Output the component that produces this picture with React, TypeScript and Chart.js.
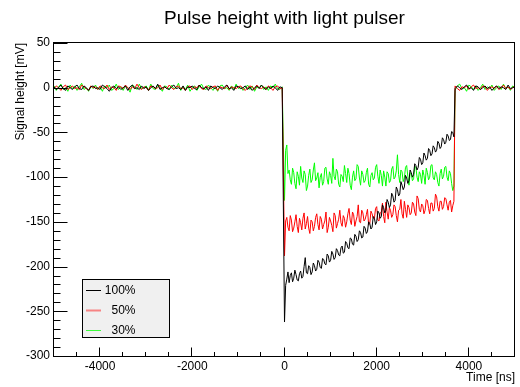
import React, { useEffect, useRef } from "react";
import { Chart, registerables } from "chart.js";

Chart.register(...registerables);

// Sampling grids of the traces (ns): before pulse, during pulse, after pulse
const PRE_T0 = -5000;
const PRE_STEP = 50;
const PULSE_T0 = 0;
const PULSE_STEP = 25;
const POST_T0 = 3700;
const POST_STEP = 50;

const TITLE = "Pulse height with light pulser";
const X_TITLE = "Time [ns]";
const Y_TITLE = "Signal height [mV]";
const X_TICKS = [-4000, -2000, 0, 2000, 4000];
const Y_TICKS = [-300, -250, -200, -150, -100, -50, 0, 50];
const SERIES_LABELS = ["100%", "50%", "30%"];

// 100% trace (mV)
const BLACK_PRE = [
  1, -2, 0, 3, -1, -3, 2, 0, -2, 1,
  3, -1, -2, 2, 0, -3, 1, 2, -1, 0,
  -2, 3, 1, -1, -4, 0, 2, -1, 1, -2,
  0, 2, -3, 1, 3, -1, 0, -2, 2, -1,
  1, -3, 0, 2, -1, 4, -2, 0, 1, -1,
  -2, 1, 3, -1, 0, -2, 2, -3, 1, 0,
  2, -1, -2, 3, 0, -1, 1, -3, 2, 0,
  -1, 2, 0, -2, 1, 3, -1, 0, -3, 2,
  1, -1, 0, 2, -2, 1, -3, 0, 2, -1,
  3, 0, -2, 1, -1, 2, 0, -3, 1, 0,
];
const BLACK_PULSE = [
  -262, -221, -214, -206, -218, -210, -207, -217, -213, -204,
  -209, -215, -216, -208, -205, -213, -211, -200, -190, -207,
  -208, -199, -201, -209, -206, -196, -199, -205, -203, -193,
  -195, -201, -202, -191, -192, -197, -198, -186, -188, -195,
  -193, -183, -186, -192, -190, -180, -182, -187, -188, -179,
  -177, -185, -184, -172, -174, -179, -180, -168, -169, -175,
  -176, -164, -166, -172, -170, -160, -162, -168, -167, -155,
  -157, -163, -161, -150, -152, -158, -156, -144, -146, -153,
  -150, -138, -140, -146, -144, -131, -134, -140, -137, -125,
  -128, -134, -131, -118, -121, -128, -126, -111, -114, -121,
  -119, -105, -109, -114, -111, -98, -101, -107, -104, -92,
  -95, -100, -97, -85, -87, -92, -89, -78, -80, -86,
  -84, -73, -76, -81, -79, -68, -70, -76, -74, -65,
  -67, -72, -70, -60, -62, -68, -66, -56, -58, -63,
  -61, -52, -54, -59, -58, -49, -50, -55,
];
const BLACK_POST = [
  -1, 2, 0, -2, 1, 3, -1, 0, -3, 2, 1, -2, 0, 2, -1, 1, -3, 0, 2, -1, 1, 0, -2, 3, -1, 0, 1,
];

// 50% trace (mV)
const RED_PRE = [
  -1, 2, 0, -3, 1, 3, -2, 0, 2, -1,
  0, -2, 3, 1, -1, -3, 2, 0, 1, -2,
  2, 0, -1, 3, -2, 1, 0, -3, 2, 1,
  -1, 3, 0, -2, 1, -1, 4, 0, -2, 1,
  0, -3, 2, 1, -1, 0, 3, -2, 1, -1,
  3, 0, -2, 1, 2, -1, 0, -3, 1, 2,
  -2, 1, 0, 3, -1, -2, 2, 0, -1, 1,
  2, -3, 1, 0, -1, 3, -2, 1, 0, -1,
  1, 2, -1, -3, 0, 2, 1, -2, 3, 0,
  -1, 1, -2, 2, 0, -3, 1, 2, -1, 0,
];
const RED_PULSE = [
  -188, -149, -145, -156, -160, -143, -148, -161, -157, -150,
  -142, -155, -162, -146, -151, -159, -146, -140, -158, -152,
  -144, -157, -163, -148, -150, -160, -155, -145, -141, -153,
  -159, -144, -147, -158, -153, -149, -139, -162, -156, -145,
  -149, -154, -161, -140, -143, -157, -152, -147, -137, -151,
  -155, -143, -146, -156, -150, -141, -135, -148, -153, -139,
  -142, -155, -149, -144, -131, -150, -151, -137, -140, -149,
  -147, -142, -136, -153, -152, -138, -141, -146, -146, -135,
  -133, -148, -149, -140, -139, -129, -144, -151, -128, -139,
  -147, -134, -137, -145, -142, -131, -133, -143, -150, -137,
  -136, -125, -141, -146, -127, -136, -145, -131, -134, -142,
  -140, -128, -130, -139, -143, -121, -124, -136, -139, -130,
  -132, -141, -137, -125, -126, -135, -141, -129, -129, -138,
  -135, -119, -122, -133, -138, -127, -127, -136, -133, -123,
  -124, -131, -137, -128, -126, -139, -132, -127,
];
const RED_POST = [
  2, -1, -3, 1, 0, 2, -2, 1, 3, -1, 0, -2, 2, 1, -3, 0, 1, -1, 2, -2, 0, 3, -1, 1, -2, 0, 2,
];

// 30% trace (mV)
const GREEN_PRE = [
  2, -3, 1, 4, -2, 0, -4, 3, -1, 2,
  -3, 1, 5, -2, 0, -4, 2, -1, 3, -2,
  1, -4, 2, 0, 3, -3, -1, 4, -2, 1,
  -3, 2, 0, -5, 3, 1, -2, 4, -1, 0,
  2, -3, 4, -1, -2, 3, 0, -4, 2, 1,
  -2, 3, -1, 0, 5, -3, 1, -2, 3, -4,
  0, 2, -3, 1, 4, -1, -2, 3, 0, -3,
  1, -4, 2, 3, -1, 0, -3, 2, -2, 4,
  -1, 1, -3, 0, 3, -2, 2, -4, 1, 0,
  3, -2, 1, -3, 2, 0, 4, -1, -2, 1,
];
const GREEN_PULSE = [
  -126, -70, -64, -96, -92, -103, -108, -90, -95, -107,
  -113, -94, -99, -109, -88, -101, -106, -93, -97, -115,
  -110, -98, -91, -106, -103, -92, -84, -104, -101, -95,
  -112, -100, -96, -109, -105, -90, -89, -102, -108, -94,
  -98, -107, -79, -99, -103, -91, -94, -108, -111, -97,
  -99, -105, -87, -96, -106, -90, -96, -109, -114, -100,
  -93, -104, -102, -86, -88, -101, -109, -93, -97, -106,
  -104, -95, -90, -108, -111, -98, -95, -103, -101, -89,
  -86, -99, -107, -92, -98, -110, -93, -100, -110, -94,
  -96, -106, -104, -91, -88, -102, -100, -93, -75, -97,
  -106, -92, -94, -105, -101, -89, -87, -99, -109, -95,
  -96, -104, -102, -88, -89, -100, -105, -94, -97, -107,
  -92, -98, -108, -90, -95, -103, -100, -87, -86, -101,
  -103, -94, -97, -106, -110, -96, -91, -102, -99, -89,
  -88, -100, -104, -93, -96, -107, -115, -110,
];
const GREEN_POST = [
  -3, 2, 4, -1, 0, -4, 3, 1, -2, 2, -3, 0, 4, -2, 1, -1, 3, -3, 0, 2, -2, 4, -1, 1, -3, 2, 0,
];

const FONT = "'Liberation Sans', Arial, Helvetica, sans-serif";

const seg = (vals: number[], t0: number, step: number) =>
  vals.map((y, i) => ({ x: t0 + i * step, y }));

const trace = (pre: number[], pulse: number[], post: number[]) => [
  ...seg(pre, PRE_T0, PRE_STEP),
  ...seg(pulse, PULSE_T0, PULSE_STEP),
  ...seg(post, POST_T0, POST_STEP),
];

const decorPlugin = {
  id: "rootDecor",
  afterDraw(chart: any) {
    const { ctx, chartArea: a, scales } = chart;
    const xs = scales.x;
    const ys = scales.y;
    ctx.save();
    ctx.strokeStyle = "#000";
    ctx.lineWidth = 1;
    const L = Math.round(a.left) - 0.5;
    const R = Math.round(a.right) - 0.5;
    const T = Math.round(a.top) - 0.5;
    const B = Math.round(a.bottom) + 0.5;
    ctx.strokeRect(L, T, R - L, B - T);

    ctx.beginPath();
    for (let v = xs.min; v <= xs.max + 1e-6; v += 500) {
      const px = Math.round(xs.getPixelForValue(v)) - 0.5;
      const major = X_TICKS.includes(v);
      const len = major ? 9 : 4.5;
      ctx.moveTo(px, B);
      ctx.lineTo(px, B - len);
    }
    for (let v = ys.min; v <= ys.max + 1e-6; v += 10) {
      const py = Math.round(ys.getPixelForValue(v)) + 0.5;
      const major = Y_TICKS.includes(v);
      const len = major ? 14 : 7;
      ctx.moveTo(L, py);
      ctx.lineTo(L + len, py);
    }
    ctx.stroke();

    ctx.fillStyle = "#000";
    ctx.font = `19px ${FONT}`;
    ctx.textAlign = "center";
    ctx.textBaseline = "alphabetic";
    ctx.fillText(TITLE, (a.left + a.right) / 2, 24);

    ctx.font = `12px ${FONT}`;
    ctx.textAlign = "right";
    ctx.fillText(X_TITLE, a.right, 381);

    ctx.save();
    ctx.translate(24, a.top);
    ctx.rotate(-Math.PI / 2);
    ctx.textAlign = "right";
    ctx.fillText(Y_TITLE, 0, 0);
    ctx.restore();

    const lx = a.left + 28.5;
    const ly = a.top + 236.5;
    const lw = 87;
    const lh = 58;
    ctx.fillStyle = "#f0f0f0";
    ctx.fillRect(lx, ly, lw, lh);
    ctx.strokeStyle = "#000";
    ctx.lineWidth = 1;
    ctx.strokeRect(lx, ly, lw, lh);
    const styles = [
      { color: "#000000", width: 1 },
      { color: "rgba(255,0,0,0.45)", width: 2 },
      { color: "rgba(0,255,0,0.75)", width: 1 },
    ];
    SERIES_LABELS.forEach((label, i) => {
      const cy = ly + 10 + i * 20;
      ctx.strokeStyle = styles[i].color;
      ctx.lineWidth = styles[i].width;
      ctx.beginPath();
      ctx.moveTo(lx + 3.5, Math.round(cy) + 0.5);
      ctx.lineTo(lx + 18.5, Math.round(cy) + 0.5);
      ctx.stroke();
      ctx.fillStyle = "#000";
      ctx.font = `12px ${FONT}`;
      ctx.textAlign = "right";
      ctx.textBaseline = "middle";
      ctx.fillText(label, lx + 53, cy + 1);
    });
    ctx.restore();
  },
};

export default function App() {
  const canvasRef = useRef<HTMLCanvasElement | null>(null);

  useEffect(() => {
    document.body.style.margin = "0";
    const canvas = canvasRef.current;
    if (!canvas) return;
    const chart = new Chart(canvas, {
      type: "line",
      data: {
        datasets: [
          {
            label: SERIES_LABELS[0],
            data: trace(BLACK_PRE, BLACK_PULSE, BLACK_POST),
            borderColor: "#000000",
            borderWidth: 1,
            pointRadius: 0,
            tension: 0,
          },
          {
            label: SERIES_LABELS[1],
            data: trace(RED_PRE, RED_PULSE, RED_POST),
            borderColor: "#ff0000",
            borderWidth: 1,
            pointRadius: 0,
            tension: 0,
          },
          {
            label: SERIES_LABELS[2],
            data: trace(GREEN_PRE, GREEN_PULSE, GREEN_POST),
            borderColor: "#00ff00",
            borderWidth: 1,
            pointRadius: 0,
            tension: 0,
          },
        ],
      },
      options: {
        animation: false,
        responsive: false,
        devicePixelRatio: 1,
        layout: { padding: { top: 43, right: 5, left: 0, bottom: 0 } },
        plugins: {
          legend: { display: false },
          tooltip: { enabled: false },
          title: { display: false },
        },
        scales: {
          x: {
            type: "linear",
            min: -5000,
            max: 5000,
            grid: { display: false, drawTicks: false },
            border: { display: false },
            afterBuildTicks: (scale: any) => {
              scale.ticks = X_TICKS.map((v) => ({ value: v }));
            },
            afterFit: (scale: any) => {
              scale.height = 31;
            },
            ticks: {
              autoSkip: false,
              maxRotation: 0,
              padding: 3,
              color: "#000",
              font: { family: FONT, size: 12 },
              callback: (v: any) => String(v),
            },
          },
          y: {
            type: "linear",
            min: -300,
            max: 50,
            grid: { display: false, drawTicks: false },
            border: { display: false },
            afterBuildTicks: (scale: any) => {
              scale.ticks = Y_TICKS.map((v) => ({ value: v }));
            },
            afterFit: (scale: any) => {
              scale.width = 54;
            },
            ticks: {
              padding: 4,
              color: "#000",
              font: { family: FONT, size: 12 },
              callback: (v: any) => String(v),
            },
          },
        },
      },
      plugins: [decorPlugin],
    });
    return () => chart.destroy();
  }, []);

  return (
    <div style={{ width: 520, height: 387, background: "#fff" }}>
      <canvas ref={canvasRef} width={520} height={387} />
    </div>
  );
}
